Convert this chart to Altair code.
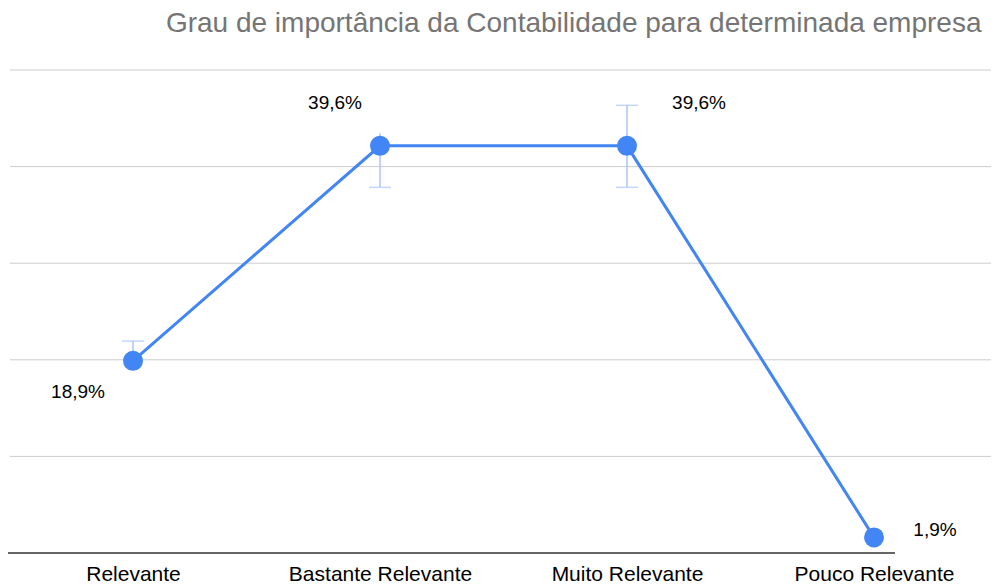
import altair as alt
import pandas as pd

categories = ["Relevante", "Bastante Relevante", "Muito Relevante", "Pouco Relevante"]
values = [18.9, 39.6, 39.6, 1.9]
labels = ["18,9%", "39,6%", "39,6%", "1,9%"]
err_low = [18.9, 35.6, 35.6, None]
err_high = [20.8, 40.8, 43.5, None]
cap_cats = ["Relevante", "Bastante Relevante", "Muito Relevante", "Muito Relevante"]
cap_vals = [20.8, 35.6, 43.5, 35.6]
grid_vals = [0.4, 9.7, 19.0, 28.3, 37.6, 46.9]

df = pd.DataFrame({"cat": categories, "v": values, "lab": labels,
                   "lo": err_low, "hi": err_high})
caps = pd.DataFrame({"cat": cap_cats, "v": cap_vals})
grid_df = pd.DataFrame({"g": grid_vals[1:]})

FONT = "Liberation Sans"
BLUE = "#4285F4"
ERR = "#a9c6fb"
W = 981

x = alt.X("cat:N", sort=categories, title=None,
          scale=alt.Scale(type="point", padding=0, range=[123, 864]),
          axis=alt.Axis(labelAngle=0, labelFontSize=21, labelColor="#000000",
                        labelFont=FONT, labelPadding=10, labelLimit=0, ticks=False,
                        domain=False, grid=False))
yscale = alt.Scale(domain=[0.4, 46.9], nice=False, zero=False)
y = alt.Y("v:Q", scale=yscale, title=None, axis=None)

base = alt.Chart(df)

grid = alt.Chart(grid_df).mark_rule(color="#cccccc", strokeWidth=1).encode(
    y=alt.Y("g:Q", scale=yscale, axis=None), x=alt.value(0), x2=alt.value(W))

baseline = alt.Chart(pd.DataFrame({"g": [grid_vals[0]]})).mark_rule(
    color="#333333", strokeWidth=1.5).encode(
    y=alt.Y("g:Q", scale=yscale), x=alt.value(-5), x2=alt.value(885))

errbars = base.transform_filter("datum.lo != null").mark_rule(
    color=ERR, strokeWidth=1.5).encode(x=x, y=alt.Y("lo:Q", scale=yscale), y2="hi:Q")
capmarks = alt.Chart(caps).mark_tick(
    color=ERR, orient="horizontal", size=22, thickness=1.5).encode(
    x=x, y=alt.Y("v:Q", scale=yscale))

line = base.mark_line(color=BLUE, strokeWidth=3).encode(x=x, y=y)
points = base.mark_circle(color=BLUE, size=400, opacity=1).encode(x=x, y=alt.Y("v:Q", scale=yscale))

offsets = {"Relevante": (-55, 31), "Bastante Relevante": (-45, -43),
           "Muito Relevante": (72, -43), "Pouco Relevante": (61, -7)}
texts = []
for c in categories:
    dx, dy = offsets[c]
    texts.append(base.transform_filter(alt.datum.cat == c).mark_text(
        dx=dx, dy=dy, fontSize=19, font=FONT, color="#000000",
        align="center", baseline="middle").encode(
        x=x, y=alt.Y("v:Q", scale=yscale), text="lab:N"))

chart = alt.layer(grid, line, baseline, errbars, capmarks, points, *texts).properties(
    width=W, height=483,
    autosize=alt.AutoSizeParams(type="none"),
    padding={"left": 2, "top": 62, "right": 0, "bottom": 34},
    title=alt.TitleParams("Grau de importância da Contabilidade para determinada empresa",
                          anchor="end", fontSize=28, font=FONT, color="#757575",
                          fontWeight="normal", offset=32, dx=-10)
).configure_view(stroke=None)

chart.save("out.html", embed_options={"renderer": "svg", "actions": False})
